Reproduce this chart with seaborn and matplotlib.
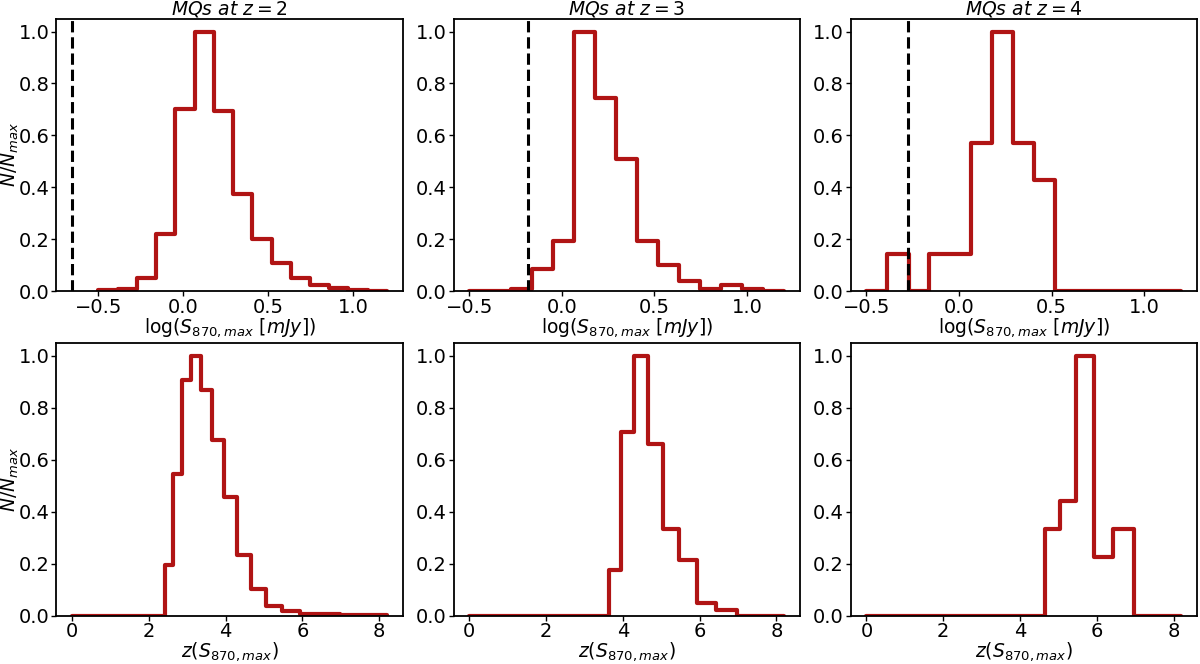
import numpy as np
import pandas as pd
import matplotlib
matplotlib.use("Agg")
import matplotlib.pyplot as plt
import seaborn as sns

# ---- data ----
flux_edges = [-0.5, -0.387, -0.273, -0.16, -0.047, 0.067, 0.18, 0.293, 0.407,
              0.52, 0.633, 0.747, 0.86, 0.973, 1.087, 1.2]
flux_z2 = [0.003, 0.010, 0.050, 0.220, 0.700, 1.000, 0.695, 0.375, 0.200,
           0.108, 0.050, 0.022, 0.012, 0.005, 0.002]
flux_z3 = [0.0, 0.0, 0.010, 0.085, 0.195, 1.000, 0.745, 0.510, 0.195,
           0.102, 0.040, 0.008, 0.022, 0.008, 0.001]
flux_z4 = [0.0, 0.143, 0.0, 0.143, 0.143, 0.571, 1.000, 0.571, 0.429,
           0.0, 0.0, 0.0, 0.0, 0.0, 0.0]
flux_limits = [-0.655, -0.183, -0.275]

z_edges = [0.0, 2.43, 2.64, 2.86, 3.10, 3.36, 3.65, 3.95, 4.29, 4.65,
           5.04, 5.47, 5.93, 6.43, 6.97, 7.56, 8.2]
zdist_z2 = [0.0, 0.194, 0.547, 0.909, 1.000, 0.868, 0.678, 0.455, 0.235,
            0.104, 0.038, 0.018, 0.006, 0.004, 0.002, 0.001]
zdist_z3 = [0.0, 0.0, 0.0, 0.0, 0.0, 0.0, 0.177, 0.708, 1.000, 0.660,
            0.335, 0.212, 0.049, 0.022, 0.0, 0.0]
zdist_z4 = [0.0, 0.0, 0.0, 0.0, 0.0, 0.0, 0.0, 0.0, 0.0, 0.333,
            0.442, 1.000, 0.224, 0.333, 0.0, 0.0]

titles = [r"$MQs\ at\ z = 2$", r"$MQs\ at\ z = 3$", r"$MQs\ at\ z = 4$"]

sns.set_style("ticks")
plt.rcParams['font.family'] = ['DejaVu Sans']
plt.rcParams['mathtext.fontset'] = 'dejavusans'
plt.rcParams.update({
    'text.color': 'black', 'axes.labelcolor': 'black',
    'xtick.color': 'black', 'ytick.color': 'black',
    'axes.edgecolor': 'black',
})

FS_TICK = 14
FS_LAB = 13.5

fig, axes = plt.subplots(2, 3, figsize=(12, 6.64), dpi=100)
fig.subplots_adjust(left=0.047, right=0.9975, top=0.972, bottom=0.073,
                    wspace=0.147, hspace=0.19)

red = "#B01414"

def draw(ax, edges, heights):
    centers = [0.5 * (a + b) for a, b in zip(edges[:-1], edges[1:])]
    df = pd.DataFrame({"x": centers, "w": heights})
    sns.histplot(data=df, x="x", weights="w", bins=list(edges), element="step",
                 fill=False, color=red, linewidth=3.0, ax=ax)

tops = [flux_z2, flux_z3, flux_z4]
bots = [zdist_z2, zdist_z3, zdist_z4]
for i in range(3):
    ax = axes[0, i]
    draw(ax, flux_edges, tops[i])
    ax.axvline(flux_limits[i], color="black", linestyle="--", linewidth=2.2)
    ax.set_ylim(0, 1.05)
    ax.set_title(titles[i], fontsize=FS_LAB, pad=-1.5)
    ax.set_xlabel(r"$\log(S_{870,max}\ [mJy])$", fontsize=FS_LAB, labelpad=-1)
    ax.set_ylabel(r"$N/N_{max}$" if i == 0 else "", fontsize=FS_LAB, labelpad=-2)
    ax.set_xticks([-0.5, 0.0, 0.5, 1.0])

    ax2 = axes[1, i]
    draw(ax2, z_edges, bots[i])
    ax2.set_ylim(0, 1.05)
    ax2.set_xlabel(r"$z(S_{870,max})$", fontsize=FS_LAB, labelpad=-1)
    ax2.set_ylabel(r"$N/N_{max}$" if i == 0 else "", fontsize=FS_LAB, labelpad=-2)
    ax2.set_xticks([0, 2, 4, 6, 8])

for ax in axes.flat:
    ax.tick_params(labelsize=FS_TICK, length=3.5, width=1, pad=1.5,
                   color="black", labelcolor="black")
    for s in ax.spines.values():
        s.set_linewidth(1.3)
        s.set_color("black")
        s.set_visible(True)
    ax.set_yticks([0.0, 0.2, 0.4, 0.6, 0.8, 1.0])

fig.savefig("out.png", dpi=100)
